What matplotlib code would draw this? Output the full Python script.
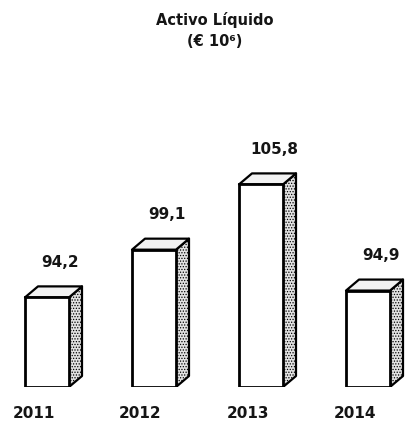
import matplotlib
matplotlib.use("Agg")
import matplotlib.pyplot as plt
from matplotlib.patches import Polygon

years = ["2011", "2012", "2013", "2014"]
values = [94.2, 99.1, 105.8, 94.9]
value_labels = ["94,2", "99,1", "105,8", "94,9"]

title_line1 = "Activo Líquido"
title_line2 = "(€ 10⁶)"

plt.rcParams["hatch.color"] = "#8a8a8a"
plt.rcParams["hatch.linewidth"] = 0.6

W, H = 407, 429
fig = plt.figure(figsize=(W / 100, H / 100), dpi=100)
fig.patch.set_facecolor("white")

# axes: bottom edge at the bar base, full figure width
ax_bottom_px = 387
ax_top_px = 100
ax = fig.add_axes([0, 1 - ax_bottom_px / H, 1, (ax_bottom_px - ax_top_px) / H])
ax.set_axis_off()

px_per_unit_y = 9.74
base = 85.0
ax.set_ylim(base, base + (ax_bottom_px - ax_top_px) / px_per_unit_y)
step_px = 107.0
left_px = 25.0
ax.set_xlim(-left_px / step_px, (W - left_px) / step_px)

bar_w = 44 / step_px
dx = 13 / step_px
dy = 11 / px_per_unit_y

txt = dict(fontsize=11, fontweight="bold", color="#151515", family="DejaVu Sans")

for i, v in enumerate(values):
    x0, x1 = i, i + bar_w
    # side face, stippled grey
    side = Polygon([(x1, base), (x1 + dx, base + dy), (x1 + dx, v + dy), (x1, v)],
                   closed=True, facecolor="#e2e2e2", edgecolor="black",
                   linewidth=1.6, hatch="......", joinstyle="round", zorder=2)
    ax.add_patch(side)
    # top face, lightly speckled
    top = Polygon([(x0, v), (x0 + dx, v + dy), (x1 + dx, v + dy), (x1, v)],
                  closed=True, facecolor="#f2f2f2", edgecolor="black",
                  linewidth=1.6, joinstyle="round", zorder=2)
    ax.add_patch(top)
    # front face
    ax.bar(x0, v - base, bottom=base, width=bar_w, align="edge",
           facecolor="white", edgecolor="black", linewidth=2.0, zorder=3)
    ax.text(i + 0.33, v + 3.6, value_labels[i], ha="center", va="center", **txt)
    ax.text(i + 0.08, base - 2.7, years[i], ha="center", va="center",
            clip_on=False, **txt)

fig.text(215 / W, 1 - 20 / H, title_line1, ha="center", va="center",
         fontsize=10.5, fontweight="bold", color="#151515", family="DejaVu Sans")
fig.text(215 / W, 1 - 41 / H, title_line2, ha="center", va="center",
         fontsize=10.5, fontweight="bold", color="#151515", family="DejaVu Sans")

fig.savefig("out.png", dpi=100, facecolor="white")
